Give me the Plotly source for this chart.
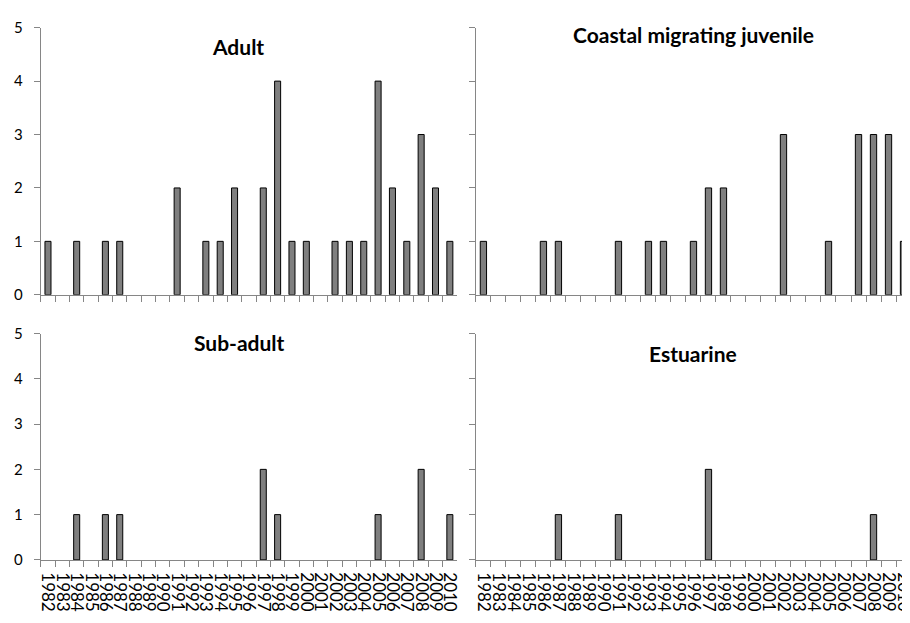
import plotly.graph_objects as go

years = [str(y) for y in range(1982, 2011)]

adult =    [1,0,1,0,1,1,0,0,0,2,0,1,1,2,0,2,4,1,1,0,1,1,1,4,2,1,3,2,1]
coastal =  [1,0,0,0,1,1,0,0,0,1,0,1,1,0,1,2,2,0,0,0,3,0,0,1,0,3,3,3,1]
subadult = [0,0,1,0,1,1,0,0,0,0,0,0,0,0,0,2,1,0,0,0,0,0,0,1,0,0,2,0,1]
estuarine =[0,0,0,0,0,1,0,0,0,1,0,0,0,0,0,2,0,0,0,0,0,0,0,0,0,0,1,0,0]

panels = [
    ("Adult", adult),
    ("Coastal migrating juvenile", coastal),
    ("Sub-adult", subadult),
    ("Estuarine", estuarine),
]

W, H = 910, 623
FONT = "Lato"
AX = "#868686"

fig = go.Figure()

# pixel boxes in figure coords (page is offset by 8px): (x0, x1, ytop, ybottom)
boxes = [
    (31, 450, 10, 285),
    (469, 907, 10, 285),
    (31, 450, 325, 558),
    (469, 907, 325, 558),
]
title_pos = [(230, 29), (688, 17), (231, 334), (688, 345)]

for i, ((name, vals), (x0, x1, yt, yb)) in enumerate(zip(panels, boxes)):
    k = "" if i == 0 else str(i + 1)
    fig.add_trace(go.Bar(
        x=years, y=[v if v else None for v in vals],
        xaxis="x" + k, yaxis="y" + k,
        marker=dict(color="#7f7f7f", line=dict(color="#000000", width=1)),
        width=0.42, showlegend=False,
    ))
    bottom = i >= 2
    left = i % 2 == 0
    fig.layout["xaxis" + k] = dict(
        domain=[x0 / W, x1 / W], anchor="y" + k,
        type="category", categoryorder="array", categoryarray=years,
        range=[-0.5, 28.5],
        tickmode="array", tickvals=years, ticktext=years,
        tickson="boundaries", ticks="outside", ticklen=6, tickcolor=AX,
        showline=True, linecolor=AX, linewidth=1,
        showgrid=False, zeroline=False,
        showticklabels=bottom, tickangle=90, ticklabelstandoff=8,
        tickfont=dict(family=FONT, size=17, color="#000000"),
    )
    fig.layout["yaxis" + k] = dict(
        domain=[1 - yb / H, 1 - yt / H], anchor="x" + k,
        range=[0, 5], tickvals=[0, 1, 2, 3, 4, 5],
        ticks="outside", ticklen=6, tickcolor=AX,
        showline=True, linecolor=AX, linewidth=1,
        showgrid=False, zeroline=False,
        showticklabels=left, ticklabelstandoff=8,
        tickfont=dict(family=FONT, size=15, color="#000000"),
    )
    tx, ty = title_pos[i]
    fig.add_annotation(
        text="<b>%s</b>" % name, xref="paper", yref="paper",
        x=tx / W, y=1 - ty / H, showarrow=False,
        xanchor="center", yanchor="middle",
        font=dict(family=FONT, size=21, color="#000000"),
    )

fig.update_layout(
    width=W, height=H,
    margin=dict(l=0, r=0, t=0, b=0),
    paper_bgcolor="white", plot_bgcolor="white",
    bargap=0.58,
)

fig.write_html("out.html")
